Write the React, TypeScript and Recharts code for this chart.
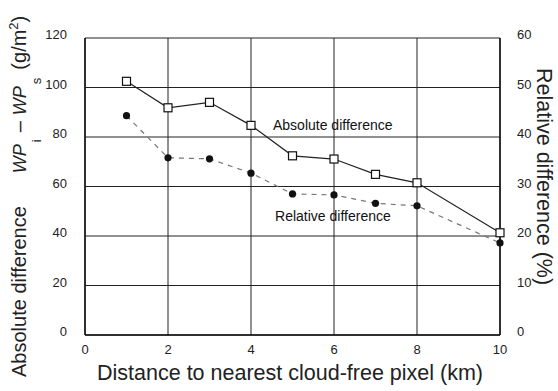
import { ComposedChart, Line, XAxis, YAxis, CartesianGrid, ReferenceDot } from "recharts";

const distances = [1, 2, 3, 4, 5, 6, 7, 8, 10];
const absoluteDiff = [102.5, 91.8, 94.0, 84.7, 72.4, 71.1, 64.9, 61.5, 41.3];
const relativeDiff = [44.3, 35.8, 35.6, 32.7, 28.5, 28.3, 26.6, 26.1, 18.6];
const xTicks = [0, 2, 4, 6, 8, 10];
const leftTicks = [0, 20, 40, 60, 80, 100, 120];
const rightTicks = [0, 10, 20, 30, 40, 50, 60];

const FONT = "'Liberation Sans', Arial, Helvetica, sans-serif";

const data = distances.map((d, i) => ({ d, abs: absoluteDiff[i], rel: relativeDiff[i] }));

const SquareDot = (props: any) => {
  const { cx, cy } = props;
  if (cx == null || cy == null) return null;
  return <rect x={cx - 4} y={cy - 4} width={8} height={8} fill="#fff" stroke="#111" strokeWidth={1.2} />;
};

const CircleDot = (props: any) => {
  const { cx, cy } = props;
  if (cx == null || cy == null) return null;
  return <circle cx={cx} cy={cy} r={3.6} fill="#111" />;
};

const LeftTick = ({ x, y, payload }: any) => (
  <text x={x - 10} y={y + 1} textAnchor="end" fontSize={13} fontFamily={FONT} fill="#222">
    {payload.value}
  </text>
);

const RightTick = ({ x, y, payload }: any) => (
  <text x={x + 9} y={y + 1} textAnchor="start" fontSize={13} fontFamily={FONT} fill="#222">
    {payload.value}
  </text>
);

const BottomTick = ({ x, y, payload }: any) => (
  <text x={x} y={y + 11} textAnchor="middle" fontSize={13} fontFamily={FONT} fill="#222">
    {payload.value}
  </text>
);

const SeriesLabel = ({ viewBox, text }: any) => (
  <text x={viewBox.x} y={viewBox.y + 5} fontSize={14} fontFamily={FONT} fill="#111">
    {text}
  </text>
);

export default function App() {
  return (
    <div style={{ position: "absolute", left: 0, top: 0, width: 558, height: 391, background: "#fff", fontFamily: FONT }}>
      <ComposedChart width={558} height={391} data={data} margin={{ top: 38, right: 0, bottom: 0, left: 0 }}>
        <CartesianGrid yAxisId="abs" stroke="#222" strokeWidth={1} vertical horizontal />
        <XAxis
          dataKey="d"
          type="number"
          domain={[0, 10]}
          ticks={xTicks}
          height={56}
          tick={<BottomTick />}
          tickLine={false}
          axisLine={{ stroke: "#111", strokeWidth: 1.5 }}
        />
        <YAxis
          yAxisId="abs"
          orientation="left"
          domain={[0, 120]}
          ticks={leftTicks}
          width={85}
          tick={<LeftTick />}
          tickLine={false}
          axisLine={{ stroke: "#111", strokeWidth: 1.5 }}
        />
        <YAxis
          yAxisId="rel"
          orientation="right"
          domain={[0, 60]}
          ticks={rightTicks}
          width={58}
          tick={<RightTick />}
          tickLine={false}
          axisLine={{ stroke: "#111", strokeWidth: 1.5 }}
        />
        <Line
          yAxisId="rel"
          dataKey="rel"
          type="linear"
          stroke="#777"
          strokeWidth={1.2}
          strokeDasharray="5 5"
          dot={<CircleDot />}
          isAnimationActive={false}
        />
        <Line
          yAxisId="abs"
          dataKey="abs"
          type="linear"
          stroke="#222"
          strokeWidth={1.2}
          dot={<SquareDot />}
          isAnimationActive={false}
        />
        <ReferenceDot yAxisId="abs" x={4.53} y={84.8} r={0} fill="none" stroke="none" label={<SeriesLabel text="Absolute difference" />} />
        <ReferenceDot yAxisId="abs" x={4.58} y={48.1} r={0} fill="none" stroke="none" label={<SeriesLabel text="Relative difference" />} />
        <text x={290} y={380} textAnchor="middle" fontSize={21.5} fontFamily={FONT} fill="#222">
          Distance to nearest cloud-free pixel (km)
        </text>
        <text transform="translate(26, 377) rotate(-90)" fontSize={20} fontFamily={FONT} fill="#222">
          <tspan>Absolute difference</tspan>
          <tspan dx={33} fontStyle="italic" fontSize={18}>WP</tspan>
          <tspan dy={15} dx={2} fontSize={13}>i</tspan>
          <tspan dy={-15} dx={7}>–</tspan>
          <tspan dx={6} fontStyle="italic" fontSize={18}>WP</tspan>
          <tspan dy={15} dx={2} fontSize={13}>s</tspan>
          <tspan dy={-15} dx={8}>(g/m</tspan>
          <tspan dy={-8} fontSize={13}>2</tspan>
          <tspan dy={8}>)</tspan>
        </text>
        <text transform="translate(537, 68) rotate(90)" fontSize={21.5} fontFamily={FONT} fill="#222">
          Relative difference (%)
        </text>
      </ComposedChart>
    </div>
  );
}
